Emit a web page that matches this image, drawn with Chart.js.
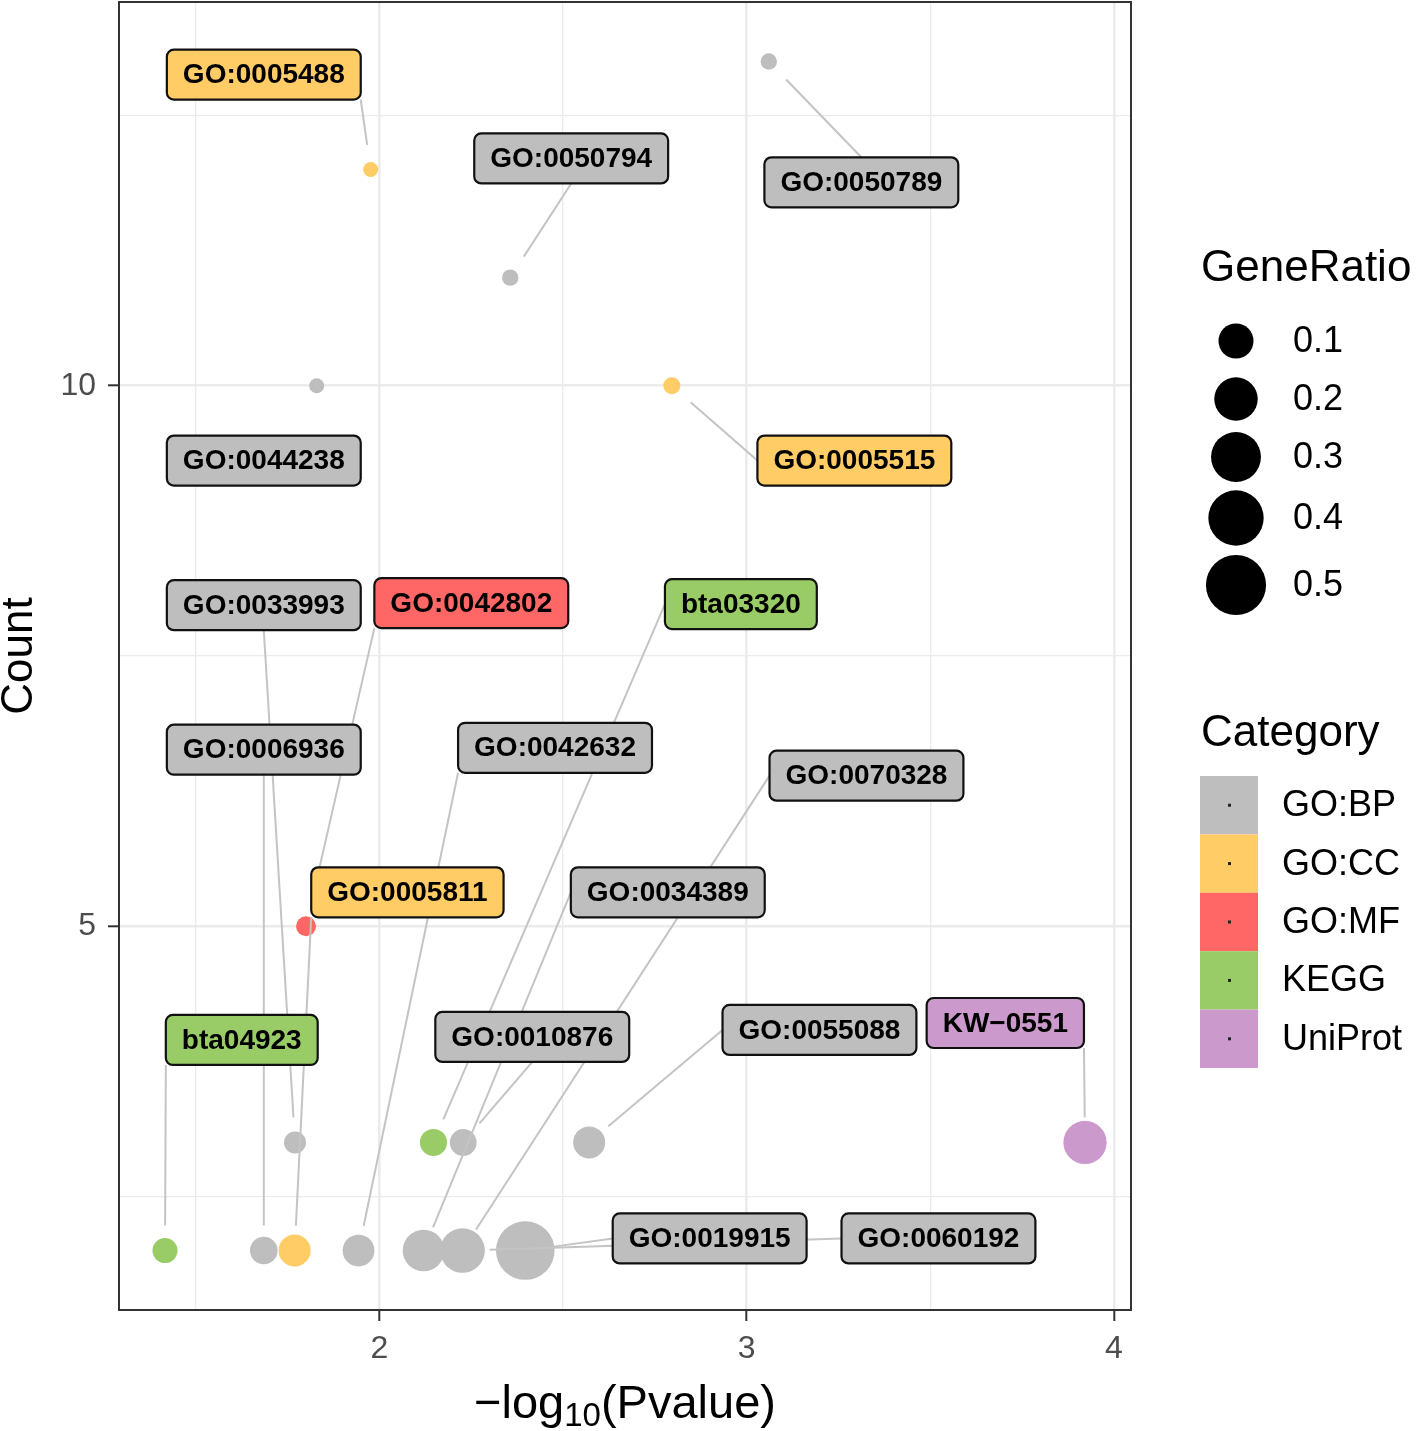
<!DOCTYPE html>
<html lang="en">
<head>
<meta charset="UTF-8">
<title>Count vs -log10(Pvalue)</title>
<script src="https://cdn.jsdelivr.net/npm/chart.js@4.4.0/dist/chart.umd.min.js"></script>
<style>
  html, body { margin: 0; padding: 0; background: #fff; }
  canvas { display: block; }
</style>
</head>
<body>
<canvas id="myChart" width="1416" height="1431"></canvas>

<script>
// enriched terms, values
var termIds = ['GO:0005488', 'GO:0050794', 'GO:0050789', 'GO:0044238', 'GO:0005515',
               'GO:0033993', 'GO:0042802', 'bta03320', 'GO:0006936', 'GO:0042632',
               'GO:0070328', 'GO:0005811', 'GO:0034389', 'bta04923', 'GO:0010876',
               'GO:0055088', 'KW\u22120551', 'GO:0019915', 'GO:0060192'];
var termCategory = ['GO:CC', 'GO:BP', 'GO:BP', 'GO:BP', 'GO:CC',
                    'GO:BP', 'GO:MF', 'KEGG', 'GO:BP', 'GO:BP',
                    'GO:BP', 'GO:CC', 'GO:BP', 'KEGG', 'GO:BP',
                    'GO:BP', 'UniProt', 'GO:BP', 'GO:BP'];
var minusLogP = [1.976, 2.356, 3.060, 1.829, 2.796,
                 1.770, 1.800, 2.147, 1.685, 1.943,
                 2.226, 1.769, 2.120, 1.416, 2.228,
                 2.571, 3.921, 2.397, 2.232];
var termCount = [12, 11, 13, 10, 10,
                 3, 5, 3, 2, 2,
                 2, 2, 2, 2, 3,
                 3, 3, 2, 2];
var geneRatio = [0.002, 0.0025, 0.0025, 0.002, 0.003,
                 0.014, 0.008, 0.038, 0.041, 0.071,
                 0.217, 0.073, 0.175, 0.027, 0.036,
                 0.073, 0.197, 0.468, 0.150];

var categories = ['GO:BP', 'GO:CC', 'GO:MF', 'KEGG', 'UniProt'];
var ratioBreaks = [0.1, 0.2, 0.3, 0.4, 0.5];
var xTickValues = [1.5, 2, 2.5, 3, 3.5, 4];
var yTickValues = [2.5, 5, 7.5, 10, 12.5];

// look
var categoryColors = ['#BEBEBE', '#FFCC66', '#FF6666', '#99CC66', '#CC99CC'];
var FONT = '"Liberation Sans", Arial, Helvetica, sans-serif';

// where the repelled labels sit (data units) and the box side their segment leaves from
var labelAt = [[1.685, 12.878], [2.522, 12.103], [3.312, 11.882], [1.685, 9.308], [3.293, 9.308],
               [1.685, 7.970], [2.250, 7.989], [2.984, 7.980], [1.685, 6.633], [2.478, 6.651],
               [3.326, 6.393], [2.076, 5.314], [2.785, 5.314], [1.625, 3.948], [2.416, 3.976],
               [3.198, 4.041], [3.704, 4.105], [2.899, 2.112], [3.522, 2.112]];
var labelSide = ['br', 'b', 't', null, 'l',
                 'b', 'bl', 'l', 'b', 'bl',
                 'l', 'bl', 'l', 'bl', 'b',
                 'l', 'br', 'l', 'l'];

// size scale: area-like mapping of GeneRatio to point radius (px)
var RATIO_LO = 0.002, RATIO_HI = 0.78;
function ratioRadius(v) {
    var t = Math.max(0, (v - RATIO_LO) / (RATIO_HI - RATIO_LO));
    return 7.5 + 28.2 * Math.sqrt(t);
}
function colorOf(i) {
    return categoryColors[categories.indexOf(termCategory[i])];
}

// ggplot style 5% expansion of the data range
function expand(arr) {
    var lo = Math.min.apply(null, arr), hi = Math.max.apply(null, arr);
    var pad = (hi - lo) * 0.05;
    return [lo - pad, hi + pad];
}
var xLim = expand(minusLogP);
var yLim = expand(termCount);

function roundRect(c, x, y, w, h, r) {
    c.beginPath();
    c.moveTo(x + r, y);
    c.lineTo(x + w - r, y);
    c.arcTo(x + w, y, x + w, y + r, r);
    c.lineTo(x + w, y + h - r);
    c.arcTo(x + w, y + h, x + w - r, y + h, r);
    c.lineTo(x + r, y + h);
    c.arcTo(x, y + h, x, y + h - r, r);
    c.lineTo(x, y + r);
    c.arcTo(x, y, x + r, y, r);
    c.closePath();
}

var ggDecor = {
    id: 'ggDecor',
    beforeDraw: function (chart) {
        var c = chart.ctx;
        c.save();
        c.fillStyle = '#ffffff';
        c.fillRect(0, 0, chart.width, chart.height);
        c.restore();
    },
    afterDatasetsDraw: function (chart) {
        var c = chart.ctx, xs = chart.scales.x, ys = chart.scales.y;
        var area = chart.chartArea;
        c.save();
        c.font = 'bold 28px ' + FONT;
        var boxes = termIds.map(function (id, i) {
            var cx = xs.getPixelForValue(labelAt[i][0]);
            var cy = ys.getPixelForValue(labelAt[i][1]);
            var w = c.measureText(id).width + 32, h = 50;
            return { x1: cx - w / 2, x2: cx + w / 2, y1: cy - h / 2, y2: cy + h / 2, cx: cx, cy: cy };
        });

        // segments first, labels on top
        c.strokeStyle = '#C4C4C4';
        c.lineWidth = 2;
        termIds.forEach(function (id, i) {
            var side = labelSide[i];
            if (!side) return;
            var b = boxes[i];
            var sx = side.indexOf('l') >= 0 ? b.x1 : (side.indexOf('r') >= 0 ? b.x2 : b.cx);
            var sy = side.indexOf('t') >= 0 ? b.y1 : (side.indexOf('b') >= 0 ? b.y2 : b.cy);
            var px = xs.getPixelForValue(minusLogP[i]);
            var py = ys.getPixelForValue(termCount[i]);
            var dx = sx - px, dy = sy - py, d = Math.sqrt(dx * dx + dy * dy);
            if (d < 30) return;
            var ex = px + dx / d * 25, ey = py + dy / d * 25;
            c.beginPath();
            c.moveTo(sx, sy);
            c.lineTo(ex, ey);
            c.stroke();
        });

        c.textAlign = 'center';
        c.textBaseline = 'middle';
        termIds.forEach(function (id, i) {
            var b = boxes[i];
            roundRect(c, b.x1, b.y1, b.x2 - b.x1, b.y2 - b.y1, 7);
            c.fillStyle = colorOf(i);
            c.fill();
            c.strokeStyle = '#111';
            c.lineWidth = 2.2;
            c.stroke();
            c.fillStyle = '#000';
            c.fillText(id, b.cx, b.cy + 1);
        });

        // panel border
        c.strokeStyle = '#333';
        c.lineWidth = 2;
        c.strokeRect(area.left, area.top, area.right - area.left, area.bottom - area.top);
        c.restore();
    },
    afterDraw: function (chart) {
        var c = chart.ctx, area = chart.chartArea;
        c.save();
        c.fillStyle = '#000';

        // x title with subscript
        var mid = (area.left + area.right) / 2, base = 1418;
        c.textBaseline = 'alphabetic';
        c.textAlign = 'left';
        c.font = '47px ' + FONT;
        var p1 = '\u2212log', p3 = '(Pvalue)';
        var w1 = c.measureText(p1).width, w3 = c.measureText(p3).width;
        c.font = '33px ' + FONT;
        var w2 = c.measureText('10').width;
        var x0 = mid - (w1 + w2 + w3) / 2;
        c.font = '47px ' + FONT;
        c.fillText(p1, x0, base);
        c.font = '33px ' + FONT;
        c.fillText('10', x0 + w1, base + 8);
        c.font = '47px ' + FONT;
        c.fillText(p3, x0 + w1 + w2, base);

        // y title
        c.save();
        c.translate(20, (area.top + area.bottom) / 2);
        c.rotate(-Math.PI / 2);
        c.textAlign = 'center';
        c.textBaseline = 'middle';
        c.font = '44px ' + FONT;
        c.fillText('Count', 0, 0);
        c.restore();

        // size legend
        c.textAlign = 'left';
        c.textBaseline = 'middle';
        c.font = '44px ' + FONT;
        c.fillText('GeneRatio', 1201, 269);
        var sizeRows = [341, 399, 457, 518, 585];
        ratioBreaks.forEach(function (v, k) {
            c.beginPath();
            c.arc(1236, sizeRows[k], ratioRadius(v), 0, Math.PI * 2);
            c.fillStyle = '#000';
            c.fill();
            c.font = '36px ' + FONT;
            c.fillText(v.toFixed(1), 1293, sizeRows[k] + 1);
        });

        // category legend
        c.font = '44px ' + FONT;
        c.fillText('Category', 1201, 734);
        var top = 776, rowH = 58.4;
        categories.forEach(function (cat, k) {
            var y = top + k * rowH;
            c.fillStyle = categoryColors[k];
            c.fillRect(1200, y, 58, rowH);
            c.fillStyle = '#222';
            c.fillRect(1228, y + rowH / 2 - 1.5, 3, 3);
            c.fillStyle = '#000';
            c.font = '36px ' + FONT;
            c.fillText(cat, 1282, y + rowH / 2 + 1);
        });
        c.restore();
    }
};

function isMajor(v) { return Number.isInteger(v); }

var ctx = document.getElementById('myChart').getContext('2d');
var myChart = new Chart(ctx, {
    type: 'scatter',
    data: {
        datasets: [{
            label: 'terms',
            data: termIds.map(function (id, i) { return { x: minusLogP[i], y: termCount[i] }; }),
            backgroundColor: function (c) { return colorOf(c.dataIndex); },
            pointRadius: function (c) { return ratioRadius(geneRatio[c.dataIndex]); },
            pointHoverRadius: function (c) { return ratioRadius(geneRatio[c.dataIndex]); },
            borderWidth: 0
        }]
    },
    options: {
        responsive: false,
        animation: false,
        devicePixelRatio: 1,
        events: [],
        layout: { autoPadding: false, padding: { left: 0, top: 2, right: 285, bottom: 0 } },
        plugins: {
            legend: { display: false },
            tooltip: { enabled: false }
        },
        scales: {
            x: {
                type: 'linear',
                min: xLim[0],
                max: xLim[1],
                afterBuildTicks: function (s) { s.ticks = xTickValues.map(function (v) { return { value: v }; }); },
                afterFit: function (s) { s.height = 121; s.paddingLeft = 0; s.paddingRight = 0; },
                ticks: {
                    autoSkip: false,
                    maxRotation: 0,
                    color: '#4D4D4D',
                    padding: 9,
                    font: { family: FONT, size: 32 },
                    callback: function (v) { return isMajor(v) ? String(v) : ''; }
                },
                grid: {
                    color: '#EBEBEB',
                    lineWidth: function (c) { return c.tick && isMajor(c.tick.value) ? 2.6 : 1.3; },
                    tickLength: 11,
                    tickWidth: 2,
                    tickColor: function (c) { return c.tick && isMajor(c.tick.value) ? '#333' : 'rgba(0,0,0,0)'; }
                },
                border: { display: false }
            },
            y: {
                type: 'linear',
                min: yLim[0],
                max: yLim[1],
                afterBuildTicks: function (s) { s.ticks = yTickValues.map(function (v) { return { value: v }; }); },
                afterFit: function (s) { s.width = 119; s.paddingTop = 0; s.paddingBottom = 0; },
                ticks: {
                    autoSkip: false,
                    color: '#4D4D4D',
                    padding: 12,
                    font: { family: FONT, size: 32 },
                    callback: function (v) { return isMajor(v) ? String(v) : ''; }
                },
                grid: {
                    color: '#EBEBEB',
                    lineWidth: function (c) { return c.tick && isMajor(c.tick.value) ? 2.6 : 1.3; },
                    tickLength: 11,
                    tickWidth: 2,
                    tickColor: function (c) { return c.tick && isMajor(c.tick.value) ? '#333' : 'rgba(0,0,0,0)'; }
                },
                border: { display: false }
            }
        }
    },
    plugins: [ggDecor]
});
</script>
</body>
</html>
